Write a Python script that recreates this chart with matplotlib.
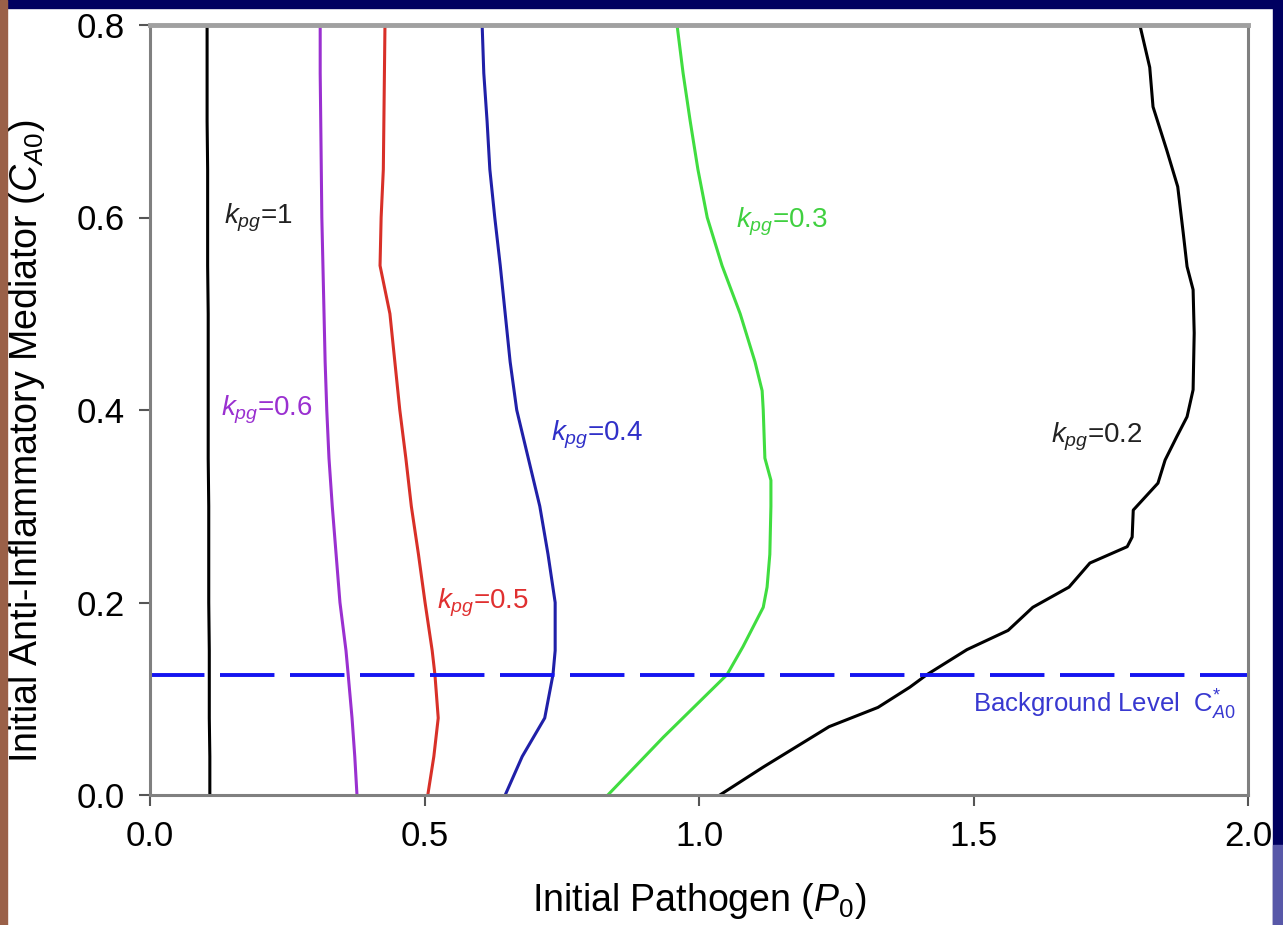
import matplotlib
matplotlib.use("Agg")
import matplotlib.pyplot as plt
from matplotlib.patches import Rectangle

plt.rcParams['font.family'] = ['Liberation Sans', 'DejaVu Sans']
plt.rcParams['mathtext.fontset'] = 'custom'
plt.rcParams['mathtext.rm'] = 'Liberation Sans'
plt.rcParams['mathtext.it'] = 'Liberation Sans:italic'

# data: C_A0 (y) and P_0 (x) for each k_pg curve
y_common = [0.0, 0.04, 0.08, 0.125, 0.15, 0.2, 0.25, 0.3, 0.35, 0.4, 0.45, 0.5,
            0.55, 0.6, 0.65, 0.7, 0.75, 0.8]
x_k1 = [0.109, 0.109, 0.108, 0.108, 0.108, 0.107, 0.107, 0.107, 0.106, 0.106, 0.106, 0.106,
        0.105, 0.105, 0.105, 0.104, 0.104, 0.104]
x_k06 = [0.377, 0.373, 0.368, 0.361, 0.357, 0.346, 0.339, 0.332, 0.326, 0.322, 0.319, 0.317,
         0.315, 0.313, 0.312, 0.311, 0.310, 0.310]
x_k05 = [0.506, 0.517, 0.525, 0.519, 0.514, 0.501, 0.489, 0.476, 0.466, 0.455, 0.446, 0.437,
         0.419, 0.421, 0.425, 0.426, 0.427, 0.428]
x_k04 = [0.647, 0.678, 0.719, 0.734, 0.738, 0.738, 0.725, 0.710, 0.689, 0.668, 0.656, 0.647,
         0.638, 0.628, 0.619, 0.614, 0.608, 0.605]
y_k03 = [0.0, 0.06, 0.125, 0.154, 0.195, 0.216, 0.25, 0.3, 0.327, 0.35, 0.4, 0.42, 0.45, 0.5,
         0.55, 0.6, 0.65, 0.7, 0.75, 0.8]
x_k03 = [0.834, 0.935, 1.051, 1.080, 1.117, 1.124, 1.129, 1.131, 1.131, 1.120, 1.117, 1.115,
         1.102, 1.075, 1.042, 1.015, 0.998, 0.984, 0.971, 0.960]
y_k02 = [0.0, 0.029, 0.050, 0.071, 0.091, 0.112, 0.125, 0.151, 0.171, 0.195, 0.216, 0.241,
         0.258, 0.268, 0.296, 0.324, 0.348, 0.372, 0.393, 0.421, 0.480, 0.525, 0.549, 0.584,
         0.632, 0.670, 0.715, 0.756, 0.80]
x_k02 = [1.038, 1.117, 1.177, 1.237, 1.326, 1.384, 1.415, 1.488, 1.563, 1.608, 1.674, 1.712,
         1.780, 1.789, 1.791, 1.836, 1.849, 1.870, 1.889, 1.900, 1.902, 1.900, 1.889, 1.882,
         1.872, 1.852, 1.827, 1.821, 1.803]
background_level = 0.125

fig = plt.figure(figsize=(12.83, 9.25), dpi=100)
fig.patch.set_facecolor("white")
# slide border
fig.patches.append(Rectangle((0, 1 - 8 / 925), 1, 8 / 925, transform=fig.transFigure,
                             color="#000060", zorder=0))
fig.patches.append(Rectangle((1 - 10 / 1283, 0), 10 / 1283, 1, transform=fig.transFigure,
                             color="#000060", zorder=0))
fig.patches.append(Rectangle((1 - 10 / 1283, 0), 10 / 1283, 80 / 925, transform=fig.transFigure,
                             color="#5858a8", zorder=0))
fig.patches.append(Rectangle((0, 0), 7 / 1283, 1, transform=fig.transFigure,
                             color="#9a6048", zorder=0))

ax = fig.add_axes([150 / 1283, 130 / 925, 1098 / 1283, 770 / 925])

ax.plot(x_k1, y_common, color="black", lw=2.2)
ax.plot(x_k06, y_common, color="#9a30d0", lw=2.2)
ax.plot(x_k05, y_common, color="#d83028", lw=2.2)
ax.plot(x_k04, y_common, color="#2020a8", lw=2.2)
ax.plot(x_k03, y_k03, color="#40dd40", lw=2.2)
ax.plot(x_k02, y_k02, color="black", lw=2.2)
ax.axhline(background_level, color="#1414f0", lw=2.8, dashes=(14, 4))

fs = 20
ax.text(0.135, 0.6, r"$k_{pg}$=1", color="#222222", fontsize=fs, va="center")
ax.text(0.130, 0.4, r"$k_{pg}$=0.6", color="#9a30d0", fontsize=fs, va="center")
ax.text(0.522, 0.2, r"$k_{pg}$=0.5", color="#e03030", fontsize=fs, va="center")
ax.text(0.730, 0.374, r"$k_{pg}$=0.4", color="#3030c8", fontsize=fs, va="center")
ax.text(1.068, 0.595, r"$k_{pg}$=0.3", color="#40d040", fontsize=fs, va="center")
ax.text(1.642, 0.372, r"$k_{pg}$=0.2", color="#222222", fontsize=fs, va="center")
ax.text(1.977, 0.094, r"Background Level  $\mathrm{C}^{*}_{A0}$", color="#3838d0",
        fontsize=18.5, va="center", ha="right")

ax.set_xlim(0, 2.0)
ax.set_ylim(0, 0.8)
ax.set_xticks([0.0, 0.5, 1.0, 1.5, 2.0])
ax.set_yticks([0.0, 0.2, 0.4, 0.6, 0.8])
ax.set_xticklabels(["0.0", "0.5", "1.0", "1.5", "2.0"])
ax.set_yticklabels(["0.0", "0.2", "0.4", "0.6", "0.8"])
ax.tick_params(direction="out", length=8, width=1.5, color="#555555",
               labelsize=25, pad=10)

for side in ["left", "right", "bottom"]:
    ax.spines[side].set_color("#808080")
    ax.spines[side].set_linewidth(2.2)
ax.spines["top"].set_color("#a0a0a0")
ax.spines["top"].set_linewidth(3.5)

ax.set_xlabel(r"Initial Pathogen ($P_0$)", fontsize=27)
ax.set_ylabel(r"Initial Anti-Inflammatory Mediator ($C_{A0}$)", fontsize=27)
ax.xaxis.set_label_coords(0.5, -0.112)
ax.yaxis.set_label_coords(-0.094, 0.46)

fig.savefig("out.png", dpi=100)
